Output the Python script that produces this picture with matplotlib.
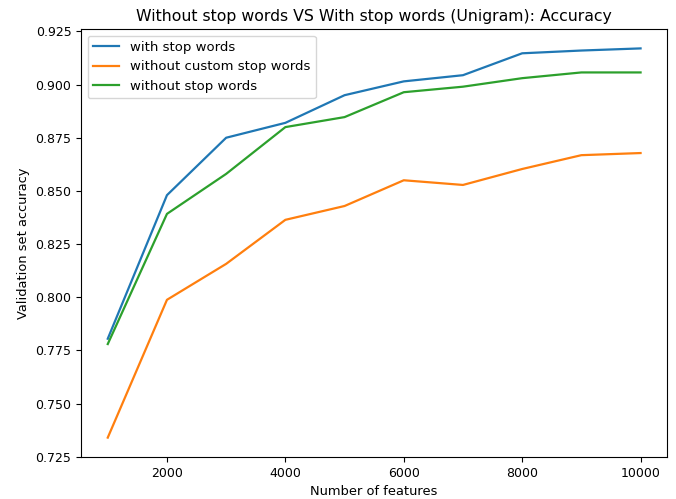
import matplotlib
matplotlib.use("Agg")
import matplotlib.pyplot as plt

n_features = [1000, 2000, 3000, 4000, 5000, 6000, 7000, 8000, 9000, 10000]
with_stop = [0.7805, 0.848, 0.875, 0.882, 0.895, 0.9015, 0.9044, 0.9147, 0.916, 0.917]
without_custom = [0.734, 0.7988, 0.8157, 0.8364, 0.8429, 0.855, 0.8528, 0.8603, 0.8668, 0.8678]
without_stop = [0.778, 0.8392, 0.858, 0.880, 0.8847, 0.8964, 0.899, 0.903, 0.9057, 0.9057]

fig = plt.figure(figsize=(6.76, 4.99), dpi=100)
ax = fig.add_axes([0.12, 0.084, 0.867, 0.858])

ax.plot(n_features, with_stop, label="with stop words", lw=1.6)
ax.plot(n_features, without_custom, label="without custom stop words", lw=1.6)
ax.plot(n_features, without_stop, label="without stop words", lw=1.6)

ax.set_yticks([0.725, 0.75, 0.775, 0.8, 0.825, 0.85, 0.875, 0.9, 0.925])
ax.set_xticks([2000, 4000, 6000, 8000, 10000])
ax.tick_params(labelsize=9)
ax.set_title("Without stop words VS With stop words (Unigram): Accuracy", fontsize=11.3)
ax.set_xlabel("Number of features", fontsize=9.4)
ax.set_ylabel("Validation set accuracy", fontsize=9.4)
ax.legend(loc="upper left", fontsize=9.5)

fig.savefig("out.png", dpi=100)
